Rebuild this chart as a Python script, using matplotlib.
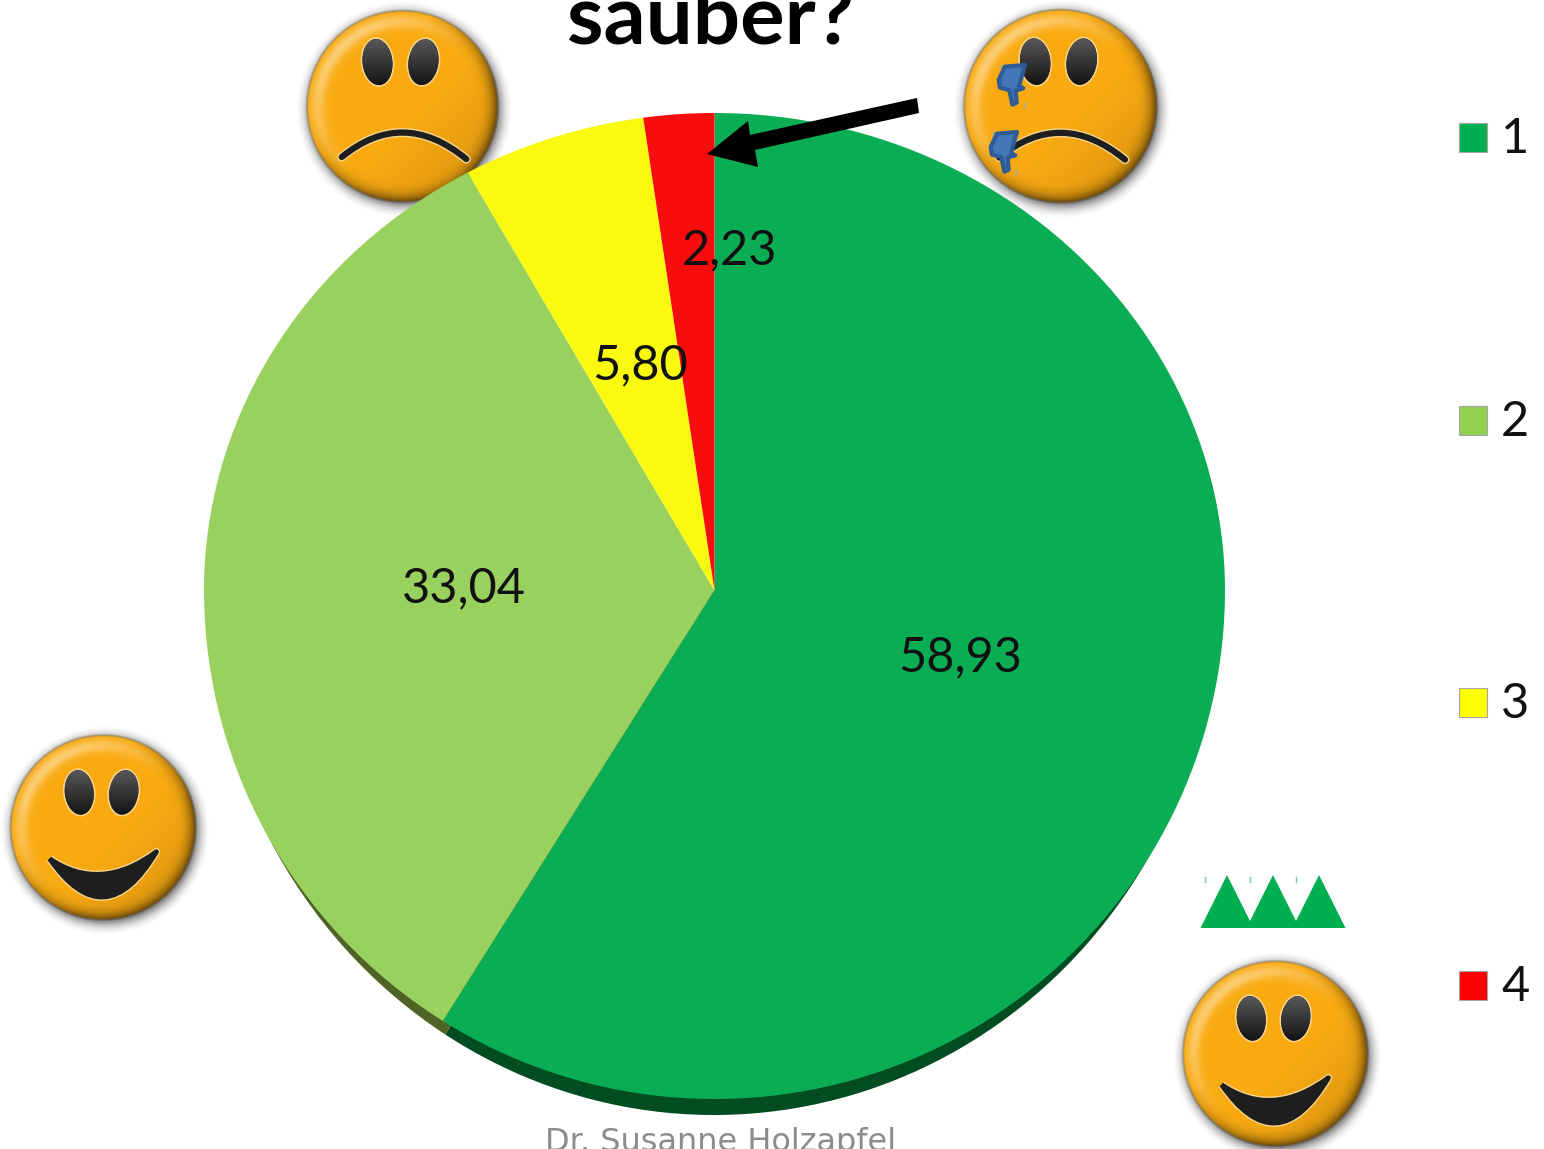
import matplotlib
matplotlib.use("Agg")
import matplotlib.pyplot as plt
import numpy as np
from matplotlib.patches import Ellipse, PathPatch, Polygon, Rectangle
from matplotlib.path import Path

W, H = 1544, 1149

values = [58.93, 33.04, 5.80, 2.23]
value_labels = ["58,93", "33,04", "5,80", "2,23"]
legend_labels = ["1", "2", "3", "4"]
colors = ["#0BAD54", "#98D15E", "#FAFA10", "#F70D0D"]
legend_colors = ["#00B050", "#92D050", "#FFFF00", "#FF0000"]
shade_colors = ["#024C22", "#4F6326", "#6E6E10", "#6E1010"]


def px_axes(fig, x0, y0, x1, y1, z):
    ax = fig.add_axes([x0 / W, 1 - y1 / H, (x1 - x0) / W, (y1 - y0) / H], zorder=z)
    ax.patch.set_alpha(0)
    ax.axis("off")
    return ax


def half_pie(ax, cols, lower):
    ax.pie(values, colors=cols, startangle=90, counterclock=False, radius=1,
           wedgeprops={"linewidth": 0, "clip_on": True})
    ax.set_aspect("auto")
    ax.set_xlim(-1, 1)
    ax.set_ylim((-1, 0) if lower else (0, 1))


def smiley(ax, cx, cy, r, happy):
    n = 400
    s = 1.25
    xs = np.linspace(-s, s, n)
    xx, yy = np.meshgrid(xs, xs)
    d = np.hypot(xx, yy)
    # lit from upper left, dark rim lower right
    lit = (-xx - yy) / np.sqrt(2)
    base = np.array([0.98, 0.67, 0.07])
    img = np.zeros((n, n, 4))
    shade = 1 - 0.12 * np.clip(-lit, 0, 1) ** 1.5
    rim = np.clip((d - 0.74) / 0.26, 0, 1) ** 3
    dark = 1 - rim * np.clip(0.32 - 0.7 * lit, 0, 0.68)
    band = np.exp(-((d - 0.87) / 0.07) ** 2) * np.clip(lit + 0.05, 0, 1) * 0.45
    for i in range(3):
        c = base[i] * shade * dark
        img[..., i] = np.clip(c + band * (1 - c), 0, 1)
    shadow = np.clip(1 - (np.hypot(xx - 0.02, yy - 0.03) - 0.97) / 0.16, 0, 1) ** 2 * 0.45
    inside = np.clip((1 - d) * r / 3, 0, 1)
    img[..., :3] *= inside[..., None]
    img[..., 3] = inside + (1 - inside) * shadow
    ax.imshow(img, extent=[cx - s * r, cx + s * r, cy + s * r, cy - s * r],
              interpolation="bilinear", zorder=2, aspect="auto")

    k = r / 95
    grad = np.linspace(0.36, 0.07, 64)[:, None]
    for ex in (-24, 21):
        ey = -36 if happy else -44
        eye = Ellipse((cx + ex * k, cy + ey * k), 31 * k, 47 * k,
                      angle=-6 if ex < 0 else 8, fc="#1E1E1E", ec="#F8D58A", lw=1.2, zorder=3)
        ax.add_patch(eye)
        im = ax.imshow(grad, cmap="gray", vmin=0, vmax=1, zorder=3.1, aspect="auto",
                       extent=[cx + (ex - 17) * k, cx + (ex + 17) * k, cy + (ey + 24) * k, cy + (ey - 24) * k])
        inner = Ellipse((cx + ex * k, cy + ey * k), 29 * k, 45 * k, angle=-6 if ex < 0 else 8,
                        transform=ax.transData)
        im.set_clip_path(inner)
    if happy:
        verts = [(-54, 31), (-3, 66), (54, 24), (2, 112), (-54, 31)]
        verts = [(cx + a * k, cy + b * k) for a, b in verts]
        codes = [Path.MOVETO, Path.CURVE3, Path.CURVE3, Path.CURVE3, Path.CURVE3]
        mouth = Path(verts, codes)
        ax.add_patch(PathPatch(mouth, fc="none", ec="#F8D58A", lw=5.5, joinstyle="round", zorder=3))
        ax.add_patch(PathPatch(mouth, fc="#1E1E1E", ec="#1E1E1E", lw=3.5, joinstyle="round", zorder=3))
    else:
        verts = [(cx - 59 * k, cy + 49 * k), (cx + 1 * k, cy + 0 * k), (cx + 63 * k, cy + 51 * k)]
        path = Path(verts, [Path.MOVETO, Path.CURVE3, Path.CURVE3])
        ax.add_patch(PathPatch(path, fc="none", ec="#F8D58A", lw=6.5, capstyle="round", zorder=3))
        ax.add_patch(PathPatch(path, fc="none", ec="#1E1E1E", lw=4.5, capstyle="round", zorder=3))


def thumb(ax, dx, dy):
    pts = [(165, 200), (225, 195), (207, 258), (220, 265), (197, 272), (200, 308), (187, 314),
           (178, 270), (150, 263), (146, 240)]
    pts = [(950 + a / 3 + dx, b / 3 + dy) for a, b in pts]
    ax.add_patch(Polygon(pts, closed=True, fc="#4477B5", ec="#2F5C97", lw=3, joinstyle="round", zorder=4))
    for a, b0, b1 in [(153, 193, 208), (222, 308, 323)]:
        ax.plot([950 + a / 3 + dx] * 2, [b0 / 3 + dy, b1 / 3 + dy], color="#8FAAD0", lw=0.8)


fig = plt.figure(figsize=(W / 100, H / 100), dpi=100)
fig.patch.set_facecolor("white")

back = px_axes(fig, 0, 0, W, H, 0)
smiley(back, 402, 107, 97, False)
smiley(back, 1060, 107, 98, False)
smiley(back, 103, 828, 94, True)
smiley(back, 1275, 1054, 94, True)
back.set_xlim(0, W)
back.set_ylim(H, 0)

# rim below the pie, then the pie itself with the apex above the widest line
half_pie(px_axes(fig, 209, 590, 1219, 1115, 1), shade_colors, True)
half_pie(px_axes(fig, 204, 113, 1225, 590.5, 2), colors, False)
half_pie(px_axes(fig, 204, 590, 1225, 1099, 2), colors, True)

top = px_axes(fig, 0, 0, W, H, 3)
top.set_xlim(0, W)
top.set_ylim(H, 0)

label_x = [960, 464, 640, 730]
label_y = [657, 588, 365, 250]
for x, y, t in zip(label_x, label_y, value_labels):
    top.text(x, y, t, ha="center", va="center", fontsize=35, family="Lato", color="#111111")

top.text(711, 44, "sauber?", ha="center", va="baseline", fontsize=60, family="Lato",
         fontweight="bold", color="black")
top.text(721, 1151, "Dr. Susanne Holzapfel", ha="center", va="baseline", fontsize=23, color="#8C8C8C")

top.add_patch(Polygon([(917, 98), (919, 113), (755, 150), (758, 167), (707, 154), (748, 121), (750, 135)],
                      closed=True, fc="black", ec="none"))

thumb(top, 0, 0)
thumb(top, -8, 67)

for cx in (1227, 1273, 1319):
    top.add_patch(Polygon([(cx - 26.5, 928), (cx, 875), (cx + 26.5, 928)], closed=True, fc="#00B050", ec="none"))
for tx in (1205, 1250, 1296):
    top.plot([tx, tx], [877, 882], color="#7FD0A4", lw=1)

legend_y = [137, 420, 702, 985]
for y, c, t in zip(legend_y, legend_colors, legend_labels):
    top.add_patch(Rectangle((1459, y - 14.5), 28, 29, fc=c, ec="#A6A6A6", lw=0.8))
    top.text(1501, y + 16, t, ha="left", va="baseline", fontsize=35, family="Lato", color="#111111")

fig.savefig("out.png", dpi=100)
